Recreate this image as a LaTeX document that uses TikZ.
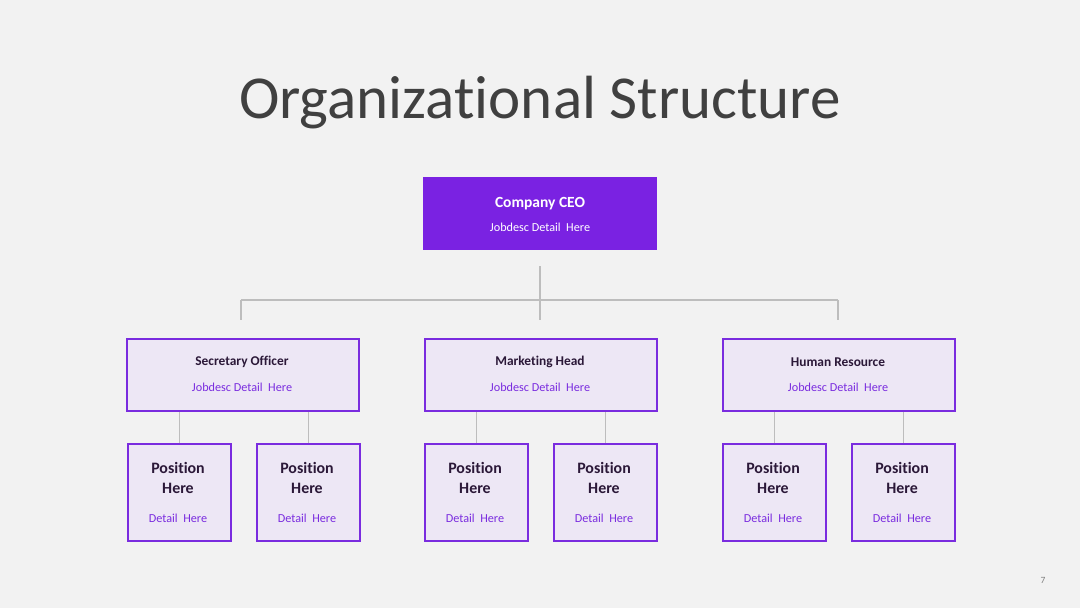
\documentclass[tikz,border=0pt]{standalone}
\usepackage{fontspec}
\setmainfont{Carlito}[Ligatures=NoCommon]
\definecolor{bg}{HTML}{F2F2F2}
\definecolor{ceo}{HTML}{7A22E2}
\definecolor{lav}{HTML}{EDE7F5}
\definecolor{pborder}{HTML}{7A2CDF}
\definecolor{ptext}{HTML}{7A2CDF}
\definecolor{dtext}{HTML}{2B1838}
\definecolor{conn}{HTML}{BDBDBD}
\definecolor{title}{HTML}{404040}
\begin{document}
\begin{tikzpicture}[x=1pt,y=-1pt,
  ceobox/.style={fill=ceo,draw=none,minimum width=234pt,minimum height=73pt,inner sep=0pt,anchor=north west},
  midbox/.style={fill=lav,draw=pborder,line width=2pt,minimum width=232pt,minimum height=72pt,inner sep=0pt,anchor=north west},
  posbox/.style={fill=lav,draw=pborder,line width=2pt,minimum width=103pt,minimum height=97pt,inner sep=0pt,anchor=north west},
  link/.style={draw=conn,line width=1.6pt},
  headtext/.style={font=\fontsize{13.4}{15}\selectfont\bfseries,text=dtext},
  subtext/.style={font=\fontsize{12.2}{14}\selectfont,text=ptext},
  postext/.style={font=\fontsize{15.9}{19.5}\selectfont\bfseries,text=dtext,align=center}
]
\fill[bg] (0,0) rectangle (1080,608);
\useasboundingbox (0,0) rectangle (1080,608);

\node[font=\fontsize{61}{66}\selectfont,text=title,anchor=base] (title) at (540,118) {Organizational Structure};

% CEO
\node[ceobox] (ceo) at (423,177) {};
\node[font=\fontsize{15.5}{17}\selectfont\bfseries,text=white] (ceot) at (540,204) {Company CEO};
\node[font=\fontsize{12.2}{14}\selectfont,text=white] (ceos) at (540,227) {Jobdesc Detail\ \ Here};

% connectors top
\coordinate (c0) at (540,266);
\coordinate (cm) at (540,300);
\coordinate (cl) at (241,300);
\coordinate (cr) at (838,300);
\coordinate (cc) at (540,320);
\coordinate (dl) at (241,320);
\coordinate (dr) at (838,320);
\draw[link] (c0) -- (cc);
\draw[link] (cl) -- (cr);
\draw[link] (cl) -- (dl);
\draw[link] (cr) -- (dr);

% mid level
\foreach \n/\x/\t in {a/125/Secretary Officer, b/423/Marketing Head, c/721/Human Resource}{
  \node[midbox] (\n) at (\x+1,338) {};
  \node[headtext] (\n t) at (\x+117,362) {\t};
  \node[subtext] (\n s) at (\x+117,387) {Jobdesc Detail\ \ Here};
}

% positions
\foreach \p/\x/\q in {a1/126/a, a2/255/a, b1/423/b, b2/552/b, c1/721/c, c2/850/c}{
  \node[posbox] (\p) at (\x+1,443) {};
  \node[postext] (\p t) at (\x+52,478) {Position\\Here};
  \node[subtext] (\p s) at (\x+52,518) {Detail\ \ Here};
  \draw[link] (\p.north) -- (\p.north |- \q.south);
}

\node[font=\fontsize{9.5}{10}\selectfont,text=gray] (pg) at (1043,580) {7};
\end{tikzpicture}
\end{document}
